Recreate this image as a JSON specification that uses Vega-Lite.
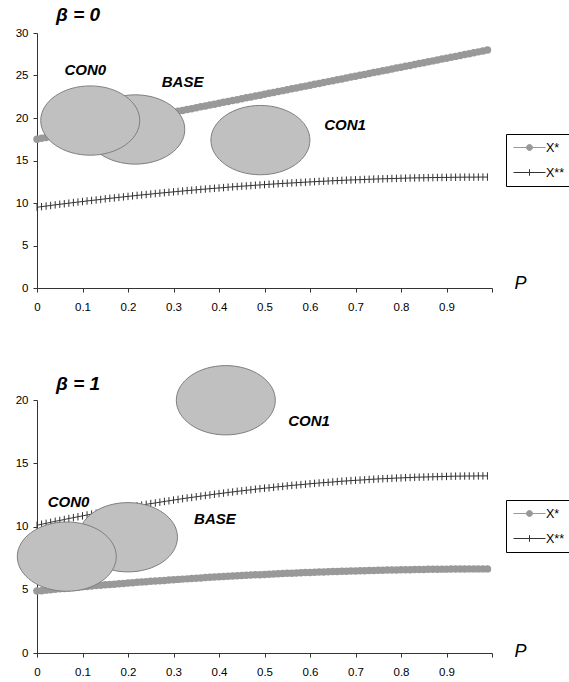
{
"$schema":"https://vega.github.io/schema/vega-lite/v6.json",
"background":"#ffffff",
"padding":{"left":15,"top":6,"right":0,"bottom":0},
"bounds":"flush",
"spacing":112,
"resolve":{"scale":{"color":"independent"},"legend":{"color":"independent"}},
"config":{"view":{"stroke":null},"font":"Liberation Sans",
"axis":{"grid":false,"domainColor":"#333333","tickColor":"#333333","labelColor":"#000000","labelFontSize":11.5,"labelFont":"Liberation Sans","tickSize":4,"labelFlush":false,"labelOverlap":false},
"axisX":{"labelPadding":9,"titleFontSize":18,"titleFontStyle":"italic","titleFontWeight":"normal","titleColor":"#000000","titleAlign":"center","titleBaseline":"alphabetic","titleFont":"Liberation Sans"},
"axisY":{"labelPadding":5}},
"datasets":{
"curves":[
{"b":0,"s":"X*","p":0,"v":17.5},{"b":0,"s":"X*","p":0.01,"v":17.61},{"b":0,"s":"X*","p":0.02,"v":17.71},{"b":0,"s":"X*","p":0.03,"v":17.82},{"b":0,"s":"X*","p":0.04,"v":17.92},{"b":0,"s":"X*","p":0.05,"v":18.03},{"b":0,"s":"X*","p":0.06,"v":18.14},{"b":0,"s":"X*","p":0.07,"v":18.24},{"b":0,"s":"X*","p":0.08,"v":18.35},{"b":0,"s":"X*","p":0.09,"v":18.45},
{"b":0,"s":"X*","p":0.1,"v":18.56},{"b":0,"s":"X*","p":0.11,"v":18.67},{"b":0,"s":"X*","p":0.12,"v":18.77},{"b":0,"s":"X*","p":0.13,"v":18.88},{"b":0,"s":"X*","p":0.14,"v":18.98},{"b":0,"s":"X*","p":0.15,"v":19.09},{"b":0,"s":"X*","p":0.16,"v":19.2},{"b":0,"s":"X*","p":0.17,"v":19.3},{"b":0,"s":"X*","p":0.18,"v":19.41},{"b":0,"s":"X*","p":0.19,"v":19.51},
{"b":0,"s":"X*","p":0.2,"v":19.62},{"b":0,"s":"X*","p":0.21,"v":19.73},{"b":0,"s":"X*","p":0.22,"v":19.83},{"b":0,"s":"X*","p":0.23,"v":19.94},{"b":0,"s":"X*","p":0.24,"v":20.04},{"b":0,"s":"X*","p":0.25,"v":20.15},{"b":0,"s":"X*","p":0.26,"v":20.26},{"b":0,"s":"X*","p":0.27,"v":20.36},{"b":0,"s":"X*","p":0.28,"v":20.47},{"b":0,"s":"X*","p":0.29,"v":20.57},
{"b":0,"s":"X*","p":0.3,"v":20.68},{"b":0,"s":"X*","p":0.31,"v":20.79},{"b":0,"s":"X*","p":0.32,"v":20.89},{"b":0,"s":"X*","p":0.33,"v":21.0},{"b":0,"s":"X*","p":0.34,"v":21.1},{"b":0,"s":"X*","p":0.35,"v":21.21},{"b":0,"s":"X*","p":0.36,"v":21.32},{"b":0,"s":"X*","p":0.37,"v":21.42},{"b":0,"s":"X*","p":0.38,"v":21.53},{"b":0,"s":"X*","p":0.39,"v":21.63},
{"b":0,"s":"X*","p":0.4,"v":21.74},{"b":0,"s":"X*","p":0.41,"v":21.85},{"b":0,"s":"X*","p":0.42,"v":21.95},{"b":0,"s":"X*","p":0.43,"v":22.06},{"b":0,"s":"X*","p":0.44,"v":22.16},{"b":0,"s":"X*","p":0.45,"v":22.27},{"b":0,"s":"X*","p":0.46,"v":22.38},{"b":0,"s":"X*","p":0.47,"v":22.48},{"b":0,"s":"X*","p":0.48,"v":22.59},{"b":0,"s":"X*","p":0.49,"v":22.69},
{"b":0,"s":"X*","p":0.5,"v":22.8},{"b":0,"s":"X*","p":0.51,"v":22.91},{"b":0,"s":"X*","p":0.52,"v":23.01},{"b":0,"s":"X*","p":0.53,"v":23.12},{"b":0,"s":"X*","p":0.54,"v":23.22},{"b":0,"s":"X*","p":0.55,"v":23.33},{"b":0,"s":"X*","p":0.56,"v":23.44},{"b":0,"s":"X*","p":0.57,"v":23.54},{"b":0,"s":"X*","p":0.58,"v":23.65},{"b":0,"s":"X*","p":0.59,"v":23.75},
{"b":0,"s":"X*","p":0.6,"v":23.86},{"b":0,"s":"X*","p":0.61,"v":23.97},{"b":0,"s":"X*","p":0.62,"v":24.07},{"b":0,"s":"X*","p":0.63,"v":24.18},{"b":0,"s":"X*","p":0.64,"v":24.28},{"b":0,"s":"X*","p":0.65,"v":24.39},{"b":0,"s":"X*","p":0.66,"v":24.5},{"b":0,"s":"X*","p":0.67,"v":24.6},{"b":0,"s":"X*","p":0.68,"v":24.71},{"b":0,"s":"X*","p":0.69,"v":24.81},
{"b":0,"s":"X*","p":0.7,"v":24.92},{"b":0,"s":"X*","p":0.71,"v":25.03},{"b":0,"s":"X*","p":0.72,"v":25.13},{"b":0,"s":"X*","p":0.73,"v":25.24},{"b":0,"s":"X*","p":0.74,"v":25.34},{"b":0,"s":"X*","p":0.75,"v":25.45},{"b":0,"s":"X*","p":0.76,"v":25.56},{"b":0,"s":"X*","p":0.77,"v":25.66},{"b":0,"s":"X*","p":0.78,"v":25.77},{"b":0,"s":"X*","p":0.79,"v":25.87},
{"b":0,"s":"X*","p":0.8,"v":25.98},{"b":0,"s":"X*","p":0.81,"v":26.09},{"b":0,"s":"X*","p":0.82,"v":26.19},{"b":0,"s":"X*","p":0.83,"v":26.3},{"b":0,"s":"X*","p":0.84,"v":26.4},{"b":0,"s":"X*","p":0.85,"v":26.51},{"b":0,"s":"X*","p":0.86,"v":26.62},{"b":0,"s":"X*","p":0.87,"v":26.72},{"b":0,"s":"X*","p":0.88,"v":26.83},{"b":0,"s":"X*","p":0.89,"v":26.93},
{"b":0,"s":"X*","p":0.9,"v":27.04},{"b":0,"s":"X*","p":0.91,"v":27.15},{"b":0,"s":"X*","p":0.92,"v":27.25},{"b":0,"s":"X*","p":0.93,"v":27.36},{"b":0,"s":"X*","p":0.94,"v":27.46},{"b":0,"s":"X*","p":0.95,"v":27.57},{"b":0,"s":"X*","p":0.96,"v":27.68},{"b":0,"s":"X*","p":0.97,"v":27.78},{"b":0,"s":"X*","p":0.98,"v":27.89},{"b":0,"s":"X*","p":0.99,"v":27.99},
{"b":0,"s":"X**","p":0,"v":9.5},{"b":0,"s":"X**","p":0.01,"v":9.57},{"b":0,"s":"X**","p":0.02,"v":9.64},{"b":0,"s":"X**","p":0.03,"v":9.71},{"b":0,"s":"X**","p":0.04,"v":9.78},{"b":0,"s":"X**","p":0.05,"v":9.85},{"b":0,"s":"X**","p":0.06,"v":9.91},{"b":0,"s":"X**","p":0.07,"v":9.98},{"b":0,"s":"X**","p":0.08,"v":10.05},{"b":0,"s":"X**","p":0.09,"v":10.11},
{"b":0,"s":"X**","p":0.1,"v":10.17},{"b":0,"s":"X**","p":0.11,"v":10.24},{"b":0,"s":"X**","p":0.12,"v":10.3},{"b":0,"s":"X**","p":0.13,"v":10.36},{"b":0,"s":"X**","p":0.14,"v":10.42},{"b":0,"s":"X**","p":0.15,"v":10.49},{"b":0,"s":"X**","p":0.16,"v":10.55},{"b":0,"s":"X**","p":0.17,"v":10.6},{"b":0,"s":"X**","p":0.18,"v":10.66},{"b":0,"s":"X**","p":0.19,"v":10.72},
{"b":0,"s":"X**","p":0.2,"v":10.78},{"b":0,"s":"X**","p":0.21,"v":10.83},{"b":0,"s":"X**","p":0.22,"v":10.89},{"b":0,"s":"X**","p":0.23,"v":10.95},{"b":0,"s":"X**","p":0.24,"v":11.0},{"b":0,"s":"X**","p":0.25,"v":11.05},{"b":0,"s":"X**","p":0.26,"v":11.11},{"b":0,"s":"X**","p":0.27,"v":11.16},{"b":0,"s":"X**","p":0.28,"v":11.21},{"b":0,"s":"X**","p":0.29,"v":11.26},
{"b":0,"s":"X**","p":0.3,"v":11.31},{"b":0,"s":"X**","p":0.31,"v":11.36},{"b":0,"s":"X**","p":0.32,"v":11.41},{"b":0,"s":"X**","p":0.33,"v":11.46},{"b":0,"s":"X**","p":0.34,"v":11.5},{"b":0,"s":"X**","p":0.35,"v":11.55},{"b":0,"s":"X**","p":0.36,"v":11.6},{"b":0,"s":"X**","p":0.37,"v":11.64},{"b":0,"s":"X**","p":0.38,"v":11.69},{"b":0,"s":"X**","p":0.39,"v":11.73},
{"b":0,"s":"X**","p":0.4,"v":11.77},{"b":0,"s":"X**","p":0.41,"v":11.81},{"b":0,"s":"X**","p":0.42,"v":11.86},{"b":0,"s":"X**","p":0.43,"v":11.9},{"b":0,"s":"X**","p":0.44,"v":11.94},{"b":0,"s":"X**","p":0.45,"v":11.98},{"b":0,"s":"X**","p":0.46,"v":12.01},{"b":0,"s":"X**","p":0.47,"v":12.05},{"b":0,"s":"X**","p":0.48,"v":12.09},{"b":0,"s":"X**","p":0.49,"v":12.13},
{"b":0,"s":"X**","p":0.5,"v":12.16},{"b":0,"s":"X**","p":0.51,"v":12.2},{"b":0,"s":"X**","p":0.52,"v":12.23},{"b":0,"s":"X**","p":0.53,"v":12.27},{"b":0,"s":"X**","p":0.54,"v":12.3},{"b":0,"s":"X**","p":0.55,"v":12.33},{"b":0,"s":"X**","p":0.56,"v":12.36},{"b":0,"s":"X**","p":0.57,"v":12.39},{"b":0,"s":"X**","p":0.58,"v":12.42},{"b":0,"s":"X**","p":0.59,"v":12.45},
{"b":0,"s":"X**","p":0.6,"v":12.48},{"b":0,"s":"X**","p":0.61,"v":12.51},{"b":0,"s":"X**","p":0.62,"v":12.54},{"b":0,"s":"X**","p":0.63,"v":12.56},{"b":0,"s":"X**","p":0.64,"v":12.59},{"b":0,"s":"X**","p":0.65,"v":12.62},{"b":0,"s":"X**","p":0.66,"v":12.64},{"b":0,"s":"X**","p":0.67,"v":12.66},{"b":0,"s":"X**","p":0.68,"v":12.69},{"b":0,"s":"X**","p":0.69,"v":12.71},
{"b":0,"s":"X**","p":0.7,"v":12.73},{"b":0,"s":"X**","p":0.71,"v":12.75},{"b":0,"s":"X**","p":0.72,"v":12.77},{"b":0,"s":"X**","p":0.73,"v":12.79},{"b":0,"s":"X**","p":0.74,"v":12.81},{"b":0,"s":"X**","p":0.75,"v":12.83},{"b":0,"s":"X**","p":0.76,"v":12.85},{"b":0,"s":"X**","p":0.77,"v":12.86},{"b":0,"s":"X**","p":0.78,"v":12.88},{"b":0,"s":"X**","p":0.79,"v":12.89},
{"b":0,"s":"X**","p":0.8,"v":12.91},{"b":0,"s":"X**","p":0.81,"v":12.92},{"b":0,"s":"X**","p":0.82,"v":12.94},{"b":0,"s":"X**","p":0.83,"v":12.95},{"b":0,"s":"X**","p":0.84,"v":12.96},{"b":0,"s":"X**","p":0.85,"v":12.97},{"b":0,"s":"X**","p":0.86,"v":12.98},{"b":0,"s":"X**","p":0.87,"v":12.99},{"b":0,"s":"X**","p":0.88,"v":13.0},{"b":0,"s":"X**","p":0.89,"v":13.01},
{"b":0,"s":"X**","p":0.9,"v":13.01},{"b":0,"s":"X**","p":0.91,"v":13.02},{"b":0,"s":"X**","p":0.92,"v":13.03},{"b":0,"s":"X**","p":0.93,"v":13.03},{"b":0,"s":"X**","p":0.94,"v":13.04},{"b":0,"s":"X**","p":0.95,"v":13.04},{"b":0,"s":"X**","p":0.96,"v":13.04},{"b":0,"s":"X**","p":0.97,"v":13.05},{"b":0,"s":"X**","p":0.98,"v":13.05},{"b":0,"s":"X**","p":0.99,"v":13.05},
{"b":1,"s":"X*","p":0,"v":4.9},{"b":1,"s":"X*","p":0.01,"v":4.93},{"b":1,"s":"X*","p":0.02,"v":4.97},{"b":1,"s":"X*","p":0.03,"v":5.0},{"b":1,"s":"X*","p":0.04,"v":5.04},{"b":1,"s":"X*","p":0.05,"v":5.07},{"b":1,"s":"X*","p":0.06,"v":5.1},{"b":1,"s":"X*","p":0.07,"v":5.14},{"b":1,"s":"X*","p":0.08,"v":5.17},{"b":1,"s":"X*","p":0.09,"v":5.2},
{"b":1,"s":"X*","p":0.1,"v":5.23},{"b":1,"s":"X*","p":0.11,"v":5.26},{"b":1,"s":"X*","p":0.12,"v":5.29},{"b":1,"s":"X*","p":0.13,"v":5.33},{"b":1,"s":"X*","p":0.14,"v":5.36},{"b":1,"s":"X*","p":0.15,"v":5.39},{"b":1,"s":"X*","p":0.16,"v":5.42},{"b":1,"s":"X*","p":0.17,"v":5.44},{"b":1,"s":"X*","p":0.18,"v":5.47},{"b":1,"s":"X*","p":0.19,"v":5.5},
{"b":1,"s":"X*","p":0.2,"v":5.53},{"b":1,"s":"X*","p":0.21,"v":5.56},{"b":1,"s":"X*","p":0.22,"v":5.59},{"b":1,"s":"X*","p":0.23,"v":5.61},{"b":1,"s":"X*","p":0.24,"v":5.64},{"b":1,"s":"X*","p":0.25,"v":5.67},{"b":1,"s":"X*","p":0.26,"v":5.69},{"b":1,"s":"X*","p":0.27,"v":5.72},{"b":1,"s":"X*","p":0.28,"v":5.74},{"b":1,"s":"X*","p":0.29,"v":5.77},
{"b":1,"s":"X*","p":0.3,"v":5.79},{"b":1,"s":"X*","p":0.31,"v":5.82},{"b":1,"s":"X*","p":0.32,"v":5.84},{"b":1,"s":"X*","p":0.33,"v":5.86},{"b":1,"s":"X*","p":0.34,"v":5.89},{"b":1,"s":"X*","p":0.35,"v":5.91},{"b":1,"s":"X*","p":0.36,"v":5.93},{"b":1,"s":"X*","p":0.37,"v":5.96},{"b":1,"s":"X*","p":0.38,"v":5.98},{"b":1,"s":"X*","p":0.39,"v":6.0},
{"b":1,"s":"X*","p":0.4,"v":6.02},{"b":1,"s":"X*","p":0.41,"v":6.04},{"b":1,"s":"X*","p":0.42,"v":6.06},{"b":1,"s":"X*","p":0.43,"v":6.08},{"b":1,"s":"X*","p":0.44,"v":6.1},{"b":1,"s":"X*","p":0.45,"v":6.12},{"b":1,"s":"X*","p":0.46,"v":6.14},{"b":1,"s":"X*","p":0.47,"v":6.16},{"b":1,"s":"X*","p":0.48,"v":6.18},{"b":1,"s":"X*","p":0.49,"v":6.19},
{"b":1,"s":"X*","p":0.5,"v":6.21},{"b":1,"s":"X*","p":0.51,"v":6.23},{"b":1,"s":"X*","p":0.52,"v":6.25},{"b":1,"s":"X*","p":0.53,"v":6.26},{"b":1,"s":"X*","p":0.54,"v":6.28},{"b":1,"s":"X*","p":0.55,"v":6.3},{"b":1,"s":"X*","p":0.56,"v":6.31},{"b":1,"s":"X*","p":0.57,"v":6.33},{"b":1,"s":"X*","p":0.58,"v":6.34},{"b":1,"s":"X*","p":0.59,"v":6.36},
{"b":1,"s":"X*","p":0.6,"v":6.37},{"b":1,"s":"X*","p":0.61,"v":6.38},{"b":1,"s":"X*","p":0.62,"v":6.4},{"b":1,"s":"X*","p":0.63,"v":6.41},{"b":1,"s":"X*","p":0.64,"v":6.42},{"b":1,"s":"X*","p":0.65,"v":6.44},{"b":1,"s":"X*","p":0.66,"v":6.45},{"b":1,"s":"X*","p":0.67,"v":6.46},{"b":1,"s":"X*","p":0.68,"v":6.47},{"b":1,"s":"X*","p":0.69,"v":6.48},
{"b":1,"s":"X*","p":0.7,"v":6.49},{"b":1,"s":"X*","p":0.71,"v":6.5},{"b":1,"s":"X*","p":0.72,"v":6.51},{"b":1,"s":"X*","p":0.73,"v":6.52},{"b":1,"s":"X*","p":0.74,"v":6.53},{"b":1,"s":"X*","p":0.75,"v":6.54},{"b":1,"s":"X*","p":0.76,"v":6.55},{"b":1,"s":"X*","p":0.77,"v":6.56},{"b":1,"s":"X*","p":0.78,"v":6.57},{"b":1,"s":"X*","p":0.79,"v":6.57},
{"b":1,"s":"X*","p":0.8,"v":6.58},{"b":1,"s":"X*","p":0.81,"v":6.59},{"b":1,"s":"X*","p":0.82,"v":6.59},{"b":1,"s":"X*","p":0.83,"v":6.6},{"b":1,"s":"X*","p":0.84,"v":6.61},{"b":1,"s":"X*","p":0.85,"v":6.61},{"b":1,"s":"X*","p":0.86,"v":6.62},{"b":1,"s":"X*","p":0.87,"v":6.62},{"b":1,"s":"X*","p":0.88,"v":6.62},{"b":1,"s":"X*","p":0.89,"v":6.63},
{"b":1,"s":"X*","p":0.9,"v":6.63},{"b":1,"s":"X*","p":0.91,"v":6.64},{"b":1,"s":"X*","p":0.92,"v":6.64},{"b":1,"s":"X*","p":0.93,"v":6.64},{"b":1,"s":"X*","p":0.94,"v":6.64},{"b":1,"s":"X*","p":0.95,"v":6.65},{"b":1,"s":"X*","p":0.96,"v":6.65},{"b":1,"s":"X*","p":0.97,"v":6.65},{"b":1,"s":"X*","p":0.98,"v":6.65},{"b":1,"s":"X*","p":0.99,"v":6.65},
{"b":1,"s":"X**","p":0,"v":10.1},{"b":1,"s":"X**","p":0.01,"v":10.18},{"b":1,"s":"X**","p":0.02,"v":10.25},{"b":1,"s":"X**","p":0.03,"v":10.33},{"b":1,"s":"X**","p":0.04,"v":10.41},{"b":1,"s":"X**","p":0.05,"v":10.48},{"b":1,"s":"X**","p":0.06,"v":10.55},{"b":1,"s":"X**","p":0.07,"v":10.63},{"b":1,"s":"X**","p":0.08,"v":10.7},{"b":1,"s":"X**","p":0.09,"v":10.77},
{"b":1,"s":"X**","p":0.1,"v":10.84},{"b":1,"s":"X**","p":0.11,"v":10.91},{"b":1,"s":"X**","p":0.12,"v":10.98},{"b":1,"s":"X**","p":0.13,"v":11.05},{"b":1,"s":"X**","p":0.14,"v":11.12},{"b":1,"s":"X**","p":0.15,"v":11.18},{"b":1,"s":"X**","p":0.16,"v":11.25},{"b":1,"s":"X**","p":0.17,"v":11.31},{"b":1,"s":"X**","p":0.18,"v":11.38},{"b":1,"s":"X**","p":0.19,"v":11.44},
{"b":1,"s":"X**","p":0.2,"v":11.5},{"b":1,"s":"X**","p":0.21,"v":11.57},{"b":1,"s":"X**","p":0.22,"v":11.63},{"b":1,"s":"X**","p":0.23,"v":11.69},{"b":1,"s":"X**","p":0.24,"v":11.75},{"b":1,"s":"X**","p":0.25,"v":11.81},{"b":1,"s":"X**","p":0.26,"v":11.86},{"b":1,"s":"X**","p":0.27,"v":11.92},{"b":1,"s":"X**","p":0.28,"v":11.98},{"b":1,"s":"X**","p":0.29,"v":12.03},
{"b":1,"s":"X**","p":0.3,"v":12.09},{"b":1,"s":"X**","p":0.31,"v":12.14},{"b":1,"s":"X**","p":0.32,"v":12.2},{"b":1,"s":"X**","p":0.33,"v":12.25},{"b":1,"s":"X**","p":0.34,"v":12.3},{"b":1,"s":"X**","p":0.35,"v":12.35},{"b":1,"s":"X**","p":0.36,"v":12.4},{"b":1,"s":"X**","p":0.37,"v":12.45},{"b":1,"s":"X**","p":0.38,"v":12.5},{"b":1,"s":"X**","p":0.39,"v":12.55},
{"b":1,"s":"X**","p":0.4,"v":12.6},{"b":1,"s":"X**","p":0.41,"v":12.64},{"b":1,"s":"X**","p":0.42,"v":12.69},{"b":1,"s":"X**","p":0.43,"v":12.73},{"b":1,"s":"X**","p":0.44,"v":12.78},{"b":1,"s":"X**","p":0.45,"v":12.82},{"b":1,"s":"X**","p":0.46,"v":12.86},{"b":1,"s":"X**","p":0.47,"v":12.9},{"b":1,"s":"X**","p":0.48,"v":12.95},{"b":1,"s":"X**","p":0.49,"v":12.99},
{"b":1,"s":"X**","p":0.5,"v":13.03},{"b":1,"s":"X**","p":0.51,"v":13.06},{"b":1,"s":"X**","p":0.52,"v":13.1},{"b":1,"s":"X**","p":0.53,"v":13.14},{"b":1,"s":"X**","p":0.54,"v":13.17},{"b":1,"s":"X**","p":0.55,"v":13.21},{"b":1,"s":"X**","p":0.56,"v":13.25},{"b":1,"s":"X**","p":0.57,"v":13.28},{"b":1,"s":"X**","p":0.58,"v":13.31},{"b":1,"s":"X**","p":0.59,"v":13.34},
{"b":1,"s":"X**","p":0.6,"v":13.38},{"b":1,"s":"X**","p":0.61,"v":13.41},{"b":1,"s":"X**","p":0.62,"v":13.44},{"b":1,"s":"X**","p":0.63,"v":13.47},{"b":1,"s":"X**","p":0.64,"v":13.49},{"b":1,"s":"X**","p":0.65,"v":13.52},{"b":1,"s":"X**","p":0.66,"v":13.55},{"b":1,"s":"X**","p":0.67,"v":13.58},{"b":1,"s":"X**","p":0.68,"v":13.6},{"b":1,"s":"X**","p":0.69,"v":13.63},
{"b":1,"s":"X**","p":0.7,"v":13.65},{"b":1,"s":"X**","p":0.71,"v":13.67},{"b":1,"s":"X**","p":0.72,"v":13.69},{"b":1,"s":"X**","p":0.73,"v":13.72},{"b":1,"s":"X**","p":0.74,"v":13.74},{"b":1,"s":"X**","p":0.75,"v":13.76},{"b":1,"s":"X**","p":0.76,"v":13.78},{"b":1,"s":"X**","p":0.77,"v":13.79},{"b":1,"s":"X**","p":0.78,"v":13.81},{"b":1,"s":"X**","p":0.79,"v":13.83},
{"b":1,"s":"X**","p":0.8,"v":13.84},{"b":1,"s":"X**","p":0.81,"v":13.86},{"b":1,"s":"X**","p":0.82,"v":13.87},{"b":1,"s":"X**","p":0.83,"v":13.89},{"b":1,"s":"X**","p":0.84,"v":13.9},{"b":1,"s":"X**","p":0.85,"v":13.91},{"b":1,"s":"X**","p":0.86,"v":13.92},{"b":1,"s":"X**","p":0.87,"v":13.93},{"b":1,"s":"X**","p":0.88,"v":13.94},{"b":1,"s":"X**","p":0.89,"v":13.95},
{"b":1,"s":"X**","p":0.9,"v":13.96},{"b":1,"s":"X**","p":0.91,"v":13.97},{"b":1,"s":"X**","p":0.92,"v":13.98},{"b":1,"s":"X**","p":0.93,"v":13.98},{"b":1,"s":"X**","p":0.94,"v":13.99},{"b":1,"s":"X**","p":0.95,"v":13.99},{"b":1,"s":"X**","p":0.96,"v":13.99},{"b":1,"s":"X**","p":0.97,"v":14.0},{"b":1,"s":"X**","p":0.98,"v":14.0},{"b":1,"s":"X**","p":0.99,"v":14.0}
],
"ellipses":[
{"b":0,"lab":"BASE","p":0.216,"v":18.65},{"b":0,"lab":"CON0","p":0.117,"v":19.7},{"b":0,"lab":"CON1","p":0.491,"v":17.4},
{"b":1,"lab":"BASE","p":0.2,"v":9.15},{"b":1,"lab":"CON0","p":0.0655,"v":7.62},{"b":1,"lab":"CON1","p":0.415,"v":19.98}
],
"labels":[
{"b":0,"lab":"CON0","p":0.106,"v":25.6},{"b":0,"lab":"BASE","p":0.32,"v":24.2},{"b":0,"lab":"CON1","p":0.677,"v":19.2},
{"b":1,"lab":"CON0","p":0.0695,"v":11.92},{"b":1,"lab":"BASE","p":0.391,"v":10.58},{"b":1,"lab":"CON1","p":0.598,"v":18.34}
],
"betas":[
{"b":0,"t":"β = 0","p":0.042,"v":31.4},{"b":1,"t":"β = 1","p":0.042,"v":20.8}
]
},
"vconcat":[
{
"width":455,"height":255,
"layer":[
{"data":{"name":"curves"},"transform":[{"filter":"datum.b==0"}],
"mark":{"type":"line","strokeWidth":1},
"encoding":{
"x":{"field":"p","type":"quantitative","scale":{"domain":[0,1],"nice":false},"axis":{"values":[0,0.1,0.2,0.3,0.4,0.5,0.6,0.7,0.8,0.9,1],"labelExpr":"datum.value>=0.999?'':format(datum.value,'~g')","title":"P","titleX":483,"titleY":0}},
"y":{"field":"v","type":"quantitative","scale":{"domain":[0,30],"nice":false},"axis":{"values":[0,2.5,5,7.5,10,12.5,15,17.5,20,22.5,25,27.5,30],"labelExpr":"datum.value%5==0?format(datum.value,'d'):''","title":null}},
"color":{"field":"s","type":"nominal","scale":{"domain":["X*","X**"],"range":["#999999","#333333"]},
"legend":{"orient":"none","legendX":469,"legendY":101,"title":null,"padding":7,"strokeColor":"#000000","fillColor":"#ffffff","symbolSize":144,"symbolStrokeWidth":1,"symbolOffset":10,"labelOffset":10,"rowPadding":12,"labelFontSize":12.5,"labelFont":"Liberation Sans","labelColor":"#000000",
"symbolType":{"expr":"datum.value=='X*' ? 'M-2.67,0H2.67M-0.5,0A0.5,0.5 0 1,1 0.5,0A0.5,0.5 0 1,1 -0.5,0Z' : 'M-2.67,0H2.67M0,-0.55V0.55'"},
"symbolFillColor":{"expr":"datum.value=='X*' ? '#999999' : 'transparent'"}}}
}},
{"data":{"name":"curves"},"transform":[{"filter":"datum.b==0 && datum.s=='X*'"}],
"mark":{"type":"point","shape":"circle","filled":true,"size":56,"fill":"#999999","opacity":1},
"encoding":{"x":{"field":"p","type":"quantitative"},"y":{"field":"v","type":"quantitative"}}},
{"data":{"name":"curves"},"transform":[{"filter":"datum.b==0 && datum.s=='X**'"}],
"mark":{"type":"point","shape":"M0,-1V1","filled":false,"size":56,"stroke":"#333333","strokeWidth":1,"opacity":1},
"encoding":{"x":{"field":"p","type":"quantitative"},"y":{"field":"v","type":"quantitative"}}},
{"data":{"name":"ellipses"},"transform":[{"filter":"datum.b==0"}],
"mark":{"type":"point","shape":"M-1,0A1,0.7 0 1,1 1,0A1,0.7 0 1,1 -1,0Z","filled":true,"size":9801,"fill":"#c0c0c0","stroke":"#7f7f7f","strokeWidth":1,"opacity":1,"fillOpacity":1},
"encoding":{"x":{"field":"p","type":"quantitative"},"y":{"field":"v","type":"quantitative"}}},
{"data":{"name":"labels"},"transform":[{"filter":"datum.b==0"}],
"mark":{"type":"text","fontSize":15,"fontWeight":"bold","fontStyle":"italic","font":"Liberation Sans","color":"#000000","align":"center","baseline":"middle"},
"encoding":{"x":{"field":"p","type":"quantitative"},"y":{"field":"v","type":"quantitative"},"text":{"field":"lab"}}},
{"data":{"name":"betas"},"transform":[{"filter":"datum.b==0"}],
"mark":{"type":"text","fontSize":19,"fontWeight":"bold","fontStyle":"italic","font":"Liberation Sans","color":"#000000","align":"left","baseline":"alphabetic"},
"encoding":{"x":{"field":"p","type":"quantitative"},"y":{"field":"v","type":"quantitative"},"text":{"field":"t"}}}
]
},
{
"width":455,"height":253,
"layer":[
{"data":{"name":"curves"},"transform":[{"filter":"datum.b==1"}],
"mark":{"type":"line","strokeWidth":1},
"encoding":{
"x":{"field":"p","type":"quantitative","scale":{"domain":[0,1],"nice":false},"axis":{"values":[0,0.1,0.2,0.3,0.4,0.5,0.6,0.7,0.8,0.9,1],"labelExpr":"datum.value>=0.999?'':format(datum.value,'~g')","title":"P","titleX":483,"titleY":3}},
"y":{"field":"v","type":"quantitative","scale":{"domain":[0,20],"nice":false},"axis":{"values":[0,2.5,5,7.5,10,12.5,15,17.5,20],"labelExpr":"datum.value%5==0?format(datum.value,'d'):''","title":null}},
"color":{"field":"s","type":"nominal","scale":{"domain":["X*","X**"],"range":["#999999","#333333"]},
"legend":{"orient":"none","legendX":469,"legendY":100,"title":null,"padding":7,"strokeColor":"#000000","fillColor":"#ffffff","symbolSize":144,"symbolStrokeWidth":1,"symbolOffset":10,"labelOffset":10,"rowPadding":12,"labelFontSize":12.5,"labelFont":"Liberation Sans","labelColor":"#000000",
"symbolType":{"expr":"datum.value=='X*' ? 'M-2.67,0H2.67M-0.5,0A0.5,0.5 0 1,1 0.5,0A0.5,0.5 0 1,1 -0.5,0Z' : 'M-2.67,0H2.67M0,-0.55V0.55'"},
"symbolFillColor":{"expr":"datum.value=='X*' ? '#999999' : 'transparent'"}}}
}},
{"data":{"name":"curves"},"transform":[{"filter":"datum.b==1 && datum.s=='X*'"}],
"mark":{"type":"point","shape":"circle","filled":true,"size":56,"fill":"#999999","opacity":1},
"encoding":{"x":{"field":"p","type":"quantitative"},"y":{"field":"v","type":"quantitative"}}},
{"data":{"name":"curves"},"transform":[{"filter":"datum.b==1 && datum.s=='X**'"}],
"mark":{"type":"point","shape":"M0,-1V1","filled":false,"size":56,"stroke":"#333333","strokeWidth":1,"opacity":1},
"encoding":{"x":{"field":"p","type":"quantitative"},"y":{"field":"v","type":"quantitative"}}},
{"data":{"name":"ellipses"},"transform":[{"filter":"datum.b==1"}],
"mark":{"type":"point","shape":"M-1,0A1,0.7 0 1,1 1,0A1,0.7 0 1,1 -1,0Z","filled":true,"size":9801,"fill":"#c0c0c0","stroke":"#7f7f7f","strokeWidth":1,"opacity":1,"fillOpacity":1},
"encoding":{"x":{"field":"p","type":"quantitative"},"y":{"field":"v","type":"quantitative"}}},
{"data":{"name":"labels"},"transform":[{"filter":"datum.b==1"}],
"mark":{"type":"text","fontSize":15,"fontWeight":"bold","fontStyle":"italic","font":"Liberation Sans","color":"#000000","align":"center","baseline":"middle"},
"encoding":{"x":{"field":"p","type":"quantitative"},"y":{"field":"v","type":"quantitative"},"text":{"field":"lab"}}},
{"data":{"name":"betas"},"transform":[{"filter":"datum.b==1"}],
"mark":{"type":"text","fontSize":19,"fontWeight":"bold","fontStyle":"italic","font":"Liberation Sans","color":"#000000","align":"left","baseline":"alphabetic"},
"encoding":{"x":{"field":"p","type":"quantitative"},"y":{"field":"v","type":"quantitative"},"text":{"field":"t"}}}
]
}
]
}
